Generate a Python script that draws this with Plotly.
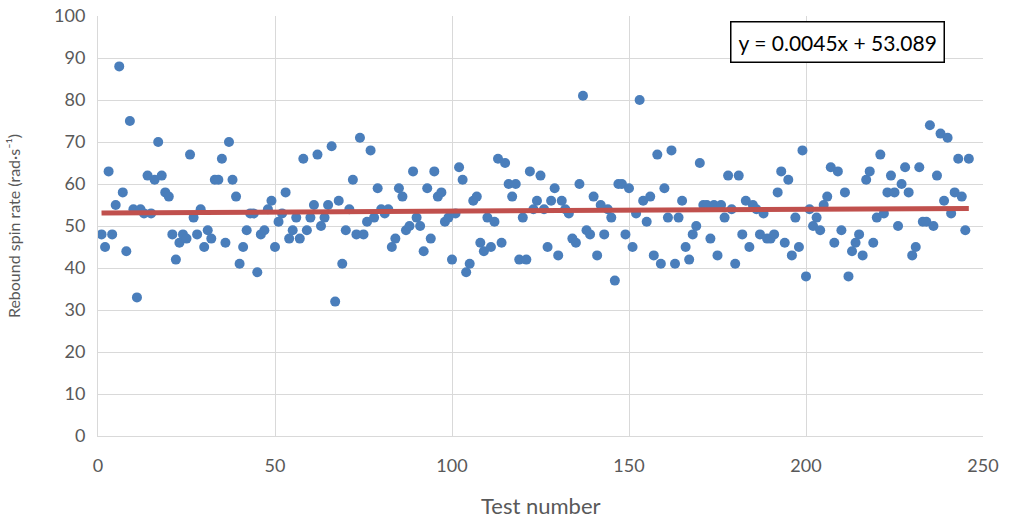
import plotly.graph_objects as go

test_number = list(range(1, 247))
spin_rate = [
    48, 45, 63, 48, 55, 88, 58, 44, 75, 54, 33, 54, 53, 62, 53, 61, 70, 62, 58, 57,
    48, 42, 46, 48, 47, 67, 52, 48, 54, 45, 49, 47, 61, 61, 66, 46, 70, 61, 57, 41,
    45, 49, 53, 53, 39, 48, 49, 54, 56, 45, 51, 53, 58, 47, 49, 52, 47, 66, 49, 52,
    55, 67, 50, 52, 55, 69, 32, 56, 41, 49, 54, 61, 48, 71, 48, 51, 68, 52, 59, 54,
    53, 54, 45, 47, 59, 57, 49, 50, 63, 52, 50, 44, 59, 47, 63, 57, 58, 51, 52, 42,
    53, 64, 61, 39, 41, 56, 57, 46, 44, 52, 45, 51, 66, 46, 65, 60, 57, 60, 42, 52,
    42, 63, 54, 56, 62, 54, 45, 56, 59, 43, 56, 54, 53, 47, 46, 60, 81, 49, 48, 57,
    43, 55, 48, 54, 52, 37, 60, 60, 48, 59, 45, 53, 80, 56, 51, 57, 43, 67, 41, 59,
    52, 68, 41, 52, 56, 45, 42, 48, 50, 65, 55, 55, 47, 55, 43, 55, 52, 62, 54, 41,
    62, 48, 56, 45, 55, 54, 48, 53, 47, 47, 48, 58, 63, 46, 61, 43, 52, 45, 68, 38,
    54, 50, 52, 49, 55, 57, 64, 46, 63, 49, 58, 38, 44, 46, 48, 43, 61, 63, 46, 52,
    67, 53, 58, 62, 58, 50, 60, 64, 58, 43, 45, 64, 51, 51, 74, 50, 62, 72, 56, 71,
    53, 58, 66, 57, 49, 66,
]

trend_slope = 0.0045
trend_intercept = 53.089
trend_label = "y = 0.0045x + 53.089"
x_title = "Test number"
y_title = "Rebound spin rate (rad·s⁻¹)"
y_ticks = [0, 10, 20, 30, 40, 50, 60, 70, 80, 90, 100]
x_ticks = [0, 50, 100, 150, 200, 250]

trend_x = [test_number[0], test_number[-1]]
trend_y = [trend_slope * v + trend_intercept for v in trend_x]

FONT = "Lato, 'Liberation Sans', sans-serif"
GRID = "#d9d9d9"

fig = go.Figure()
fig.add_trace(go.Scatter(
    x=test_number, y=spin_rate, mode="markers",
    marker=dict(color="#4a7ebb", size=10, line=dict(width=0)),
    showlegend=False, hoverinfo="x+y",
))
fig.add_trace(go.Scatter(
    x=trend_x, y=trend_y, mode="lines",
    line=dict(color="#c0504d", width=5),
    showlegend=False,
))

W, H = 1011, 521
L, R, T, B = 98, 28, 16, 85
pw, ph = W - L - R, H - T - B
fig.update_layout(
    width=W, height=H,
    margin=dict(l=L, r=R, t=T, b=B, autoexpand=False),
    paper_bgcolor="white", plot_bgcolor="white",
    font=dict(family=FONT, color="#595959"),
    xaxis=dict(
        range=[0, 250], tickvals=x_ticks,
        showgrid=True, gridcolor=GRID, gridwidth=1, automargin=False,
        zeroline=False, showline=True, linecolor=GRID, linewidth=1,
        tickfont=dict(size=18, color="#595959"), ticklabelstandoff=13,
        ticklabeloverflow="allow",
        ticks="", ticklen=0,
    ),
    yaxis=dict(
        range=[0, 100], tickvals=y_ticks,
        showgrid=True, gridcolor=GRID, gridwidth=1, automargin=False,
        zeroline=False, showline=True, linecolor=GRID, linewidth=1,
        tickfont=dict(size=18, color="#595959"), ticklabelstandoff=8,
        ticklabeloverflow="allow",
        title=dict(text=y_title, font=dict(size=16, color="#595959"), standoff=29),
        ticks="", ticklen=0,
    ),
    annotations=[
        dict(
            text=trend_label, xref="paper", yref="paper",
            x=(837 - L) / pw, y=(H - B - 41.5) / ph,
            xanchor="center", yanchor="middle", showarrow=False,
            font=dict(size=21, color="black", family=FONT),
            bordercolor="black", borderwidth=1.5, borderpad=7, bgcolor="white",
        ),
        dict(
            text=x_title, xref="paper", yref="paper",
            x=0.5, y=-69 / ph, xanchor="center", yanchor="middle",
            showarrow=False, font=dict(size=22, color="#595959", family=FONT),
        ),
    ],
)

fig.write_html(
    "out.html",
    config={"displayModeBar": False},
    post_script="document.body.style.margin='0';document.body.style.overflow='hidden';",
)
